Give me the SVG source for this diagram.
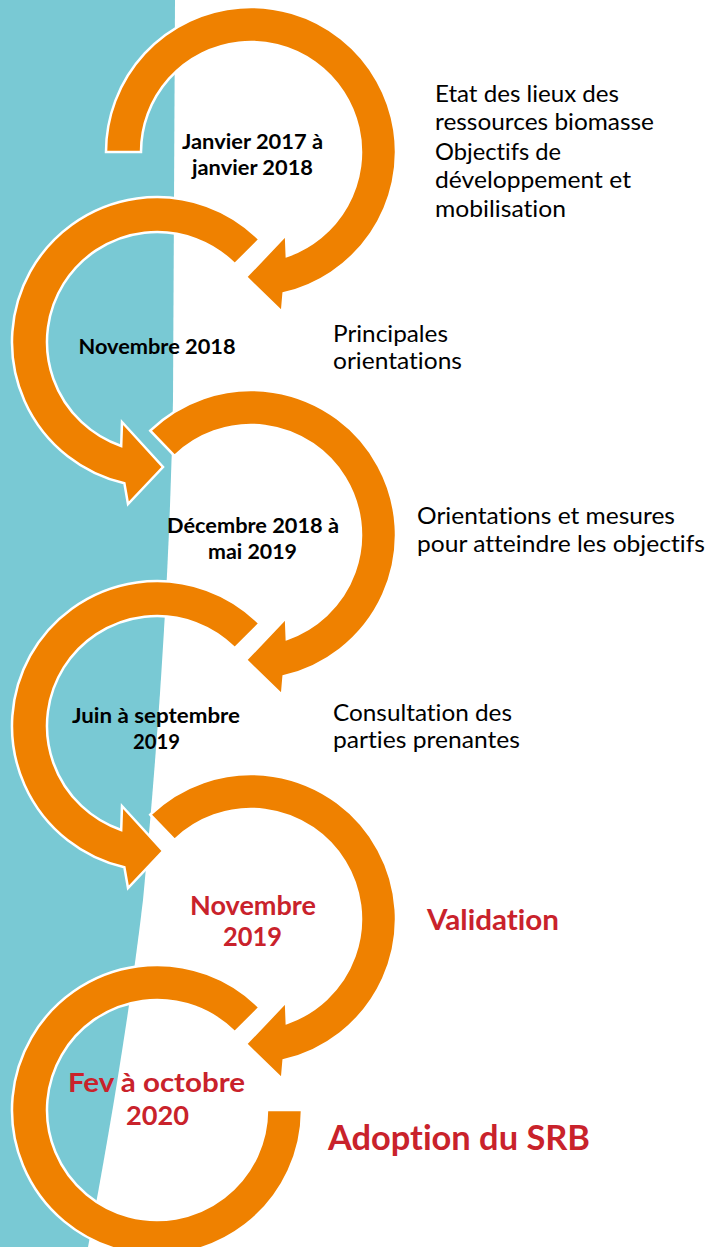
<svg xmlns="http://www.w3.org/2000/svg" width="709" height="1247" viewBox="0 0 709 1247">
<style>
text{font-variant-ligatures:none;font-feature-settings:"liga" 0,"clig" 0,"dlig" 0;}
.arr{fill:#EF8100;stroke:#FFFFFF;stroke-width:2.5;stroke-linejoin:miter}
.date{font-family:Lato,"Open Sans",sans-serif;font-weight:700;font-size:21.5px;fill:#000;text-anchor:middle}
.dater{font-family:Lato,"Open Sans",sans-serif;font-weight:700;font-size:26px;fill:#C9222B;text-anchor:middle}
.desc{font-family:Lato,"Open Sans",sans-serif;font-size:24px;fill:#000}
.descr{font-family:Lato,"Open Sans",sans-serif;font-weight:700;fill:#C9222B}
</style>
<rect x="0" y="0" width="709" height="1247" fill="#FFFFFF"/>
<path id="band" d="M0,0 L175,0 L173,400 C170,560 160,720 143,900 C130,1010 110,1130 88,1247 L0,1247 Z" fill="#79C9D4"/>
<g id="connectors"></g>
<g id="step1">
<path class="arr" d="M106,152 A145,145 0 1 1 283.62,293.28 L282,312 L246,277 L286,235 L286.81,256.01 A110,110 0 1 0 141,152 Z"/>
<text class="date" x="252.5" y="149" textLength="141" lengthAdjust="spacingAndGlyphs">Janvier 2017 à</text>
<text class="date" x="252.5" y="175" textLength="121" lengthAdjust="spacingAndGlyphs">janvier 2018</text>
<text class="desc" x="435" y="102" textLength="184" lengthAdjust="spacingAndGlyphs">Etat des lieux des</text>
<text class="desc" x="435" y="130" textLength="219" lengthAdjust="spacingAndGlyphs">ressources biomasse</text>
<text class="desc" x="435" y="160" textLength="126" lengthAdjust="spacingAndGlyphs">Objectifs de</text>
<text class="desc" x="435" y="188" textLength="196" lengthAdjust="spacingAndGlyphs">développement et</text>
<text class="desc" x="435" y="217" textLength="131" lengthAdjust="spacingAndGlyphs">mobilisation</text>
</g>
<g id="step2">
<path class="arr" d="M259.53,239.47 A145,145 0 1 0 124.38,483.28 L128,504 L163,467 L122,422 L121.19,446.01 A110,110 0 1 1 234.78,264.22 Z"/>
<text class="date" x="157" y="354" textLength="157" lengthAdjust="spacingAndGlyphs">Novembre 2018</text>
<text class="desc" x="333" y="342" textLength="115" lengthAdjust="spacingAndGlyphs">Principales</text>
<text class="desc" x="333" y="369" textLength="129" lengthAdjust="spacingAndGlyphs">orientations</text>
</g>
<g id="step3">
<path class="arr" d="M150.27,430.70 A145,145 0 1 1 283.62,676.28 L282,695 L246,660 L286,618 L286.81,639.01 A110,110 0 1 0 174.59,455.87 Z"/>
<text class="date" x="253" y="533" textLength="172" lengthAdjust="spacingAndGlyphs">Décembre 2018 à</text>
<text class="date" x="252.5" y="559" textLength="89" lengthAdjust="spacingAndGlyphs">mai 2019</text>
<text class="desc" x="417" y="524" textLength="258" lengthAdjust="spacingAndGlyphs">Orientations et mesures</text>
<text class="desc" x="417" y="552" textLength="288" lengthAdjust="spacingAndGlyphs">pour atteindre les objectifs</text>
</g>
<g id="step4">
<path class="arr" d="M259.53,623.47 A145,145 0 1 0 124.38,867.28 L128,888 L163,851 L122,806 L121.19,830.01 A110,110 0 1 1 234.78,648.22 Z"/>
<text class="date" x="156" y="723" textLength="168" lengthAdjust="spacingAndGlyphs">Juin à septembre</text>
<text class="date" x="156.5" y="749" textLength="47" lengthAdjust="spacingAndGlyphs">2019</text>
<text class="desc" x="333" y="721" textLength="179" lengthAdjust="spacingAndGlyphs">Consultation des</text>
<text class="desc" x="333" y="748" textLength="187" lengthAdjust="spacingAndGlyphs">parties prenantes</text>
</g>
<g id="step5">
<path class="arr" d="M150.27,814.70 A145,145 0 1 1 283.62,1060.28 L282,1079 L246,1044 L286,1002 L286.81,1023.01 A110,110 0 1 0 174.59,839.87 Z"/>
<text class="dater" x="253" y="915" textLength="126" lengthAdjust="spacingAndGlyphs">Novembre</text>
<text class="dater" x="252.5" y="946" textLength="59" lengthAdjust="spacingAndGlyphs">2019</text>
<text class="descr" x="427" y="930" font-size="28" textLength="132" lengthAdjust="spacingAndGlyphs">Validation</text>
</g>
<g id="step6">
<path class="arr" d="M259.53,1007.47 A145,145 0 1 0 302,1110 L267,1110 A110,110 0 1 1 234.78,1032.22 Z"/>
<text class="dater" x="156.5" y="1092" textLength="177" lengthAdjust="spacingAndGlyphs">Fev à octobre</text>
<text class="dater" x="157.5" y="1125" textLength="63" lengthAdjust="spacingAndGlyphs">2020</text>
<text class="descr" x="328" y="1150" font-size="34" textLength="262" lengthAdjust="spacingAndGlyphs">Adoption du SRB</text>
</g>
</svg>
